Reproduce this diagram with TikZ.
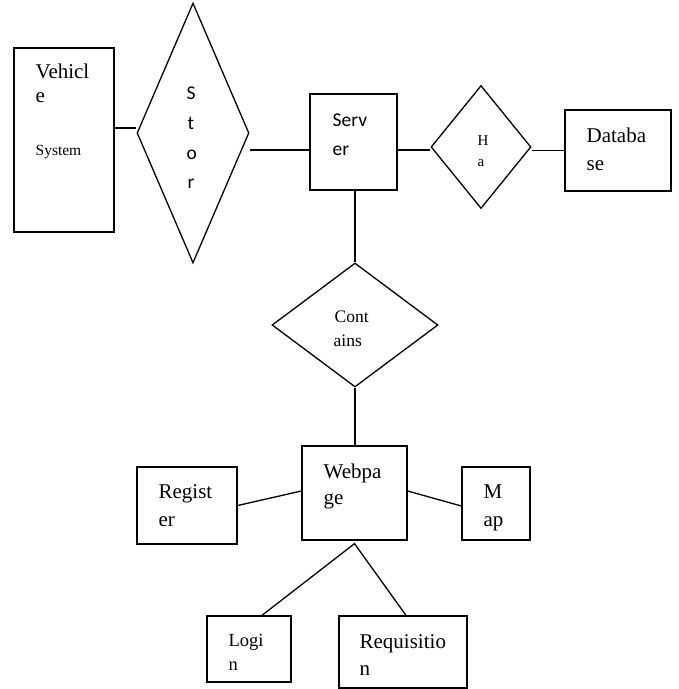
\documentclass[tikz,border=0pt]{standalone}
\usepackage{fontspec}
\setmainfont{Liberation Serif}
\newfontfamily\calfont{Carlito}
\usetikzlibrary{shapes.geometric}
\begin{document}
\begin{tikzpicture}[x=1pt,y=-1pt,line width=1.3pt,
  ent/.style={draw,rectangle,inner sep=0pt},
  rel/.style={draw,diamond,inner sep=0pt},
  lbl/.style={anchor=base west,inner sep=0pt,font=\fontsize{21}{24}\selectfont},
  lblsm/.style={anchor=base west,inner sep=0pt,font=\fontsize{15.5}{18}\selectfont},
  lblmid/.style={anchor=base west,inner sep=0pt,font=\fontsize{17.5}{20}\selectfont},
  lblsans/.style={anchor=base west,inner sep=0pt,font=\calfont\fontsize{19.5}{23}\selectfont}]
\useasboundingbox (0,0) rectangle (679,689);
% entities
\node[ent,minimum width=100pt,minimum height=184pt] (veh) at (64,140) {};
\node[ent,minimum width=87pt,minimum height=96pt] (server) at (353.5,142) {};
\node[ent,minimum width=106pt,minimum height=81pt] (db) at (618,150.5) {};
\node[ent,minimum width=105pt,minimum height=94pt] (web) at (354.5,493) {};
\node[ent,minimum width=100pt,minimum height=77pt] (reg) at (187,505.5) {};
\node[ent,minimum width=68pt,minimum height=73pt] (map) at (496,503.5) {};
\node[ent,minimum width=84pt,minimum height=66pt] (login) at (249,649) {};
\node[ent,minimum width=128pt,minimum height=72pt] (req) at (403,652) {};
% relationships
\node[rel,minimum width=112pt,minimum height=260pt] (stor) at (193,133) {};
\node[rel,minimum width=100pt,minimum height=123pt] (ha) at (481,147) {};
\node[rel,minimum width=166pt,minimum height=124pt] (cont) at (355,325) {};
% connectors
\draw ([yshift=12pt]veh.east) -- ([yshift=12pt]veh.east -| stor.west);
\draw ([yshift=-8pt]server.west) -- ([yshift=-8pt]server.west -| stor.east);
\draw ([yshift=-8pt]server.east) -- ([yshift=-8pt]server.east -| ha.west);
\draw (db.west) -- (db.west -| ha.east);
\draw (cont.north) -- (cont.north |- server.south);
\draw (cont.south) -- (cont.south |- web.north);
\draw (reg.east) -- ([yshift=2pt]web.west);
\draw ([yshift=2pt]web.east) -- ([yshift=-2.5pt]map.west);
\coordinate (apex) at ([yshift=-3pt]web.south);
\draw ([xshift=13pt]login.north) -- (apex) -- ([xshift=3pt]req.north);
% labels
\node[lbl] (t1) at (35,78) {Vehicl};
\node[lbl] (t2) at (35,102) {e};
\node[lblsm] (t3) at (35,155) {System};
\node[lblsans] (s1) at (186,99) {S};
\node[lblsans] (s2) at (187,129) {t};
\node[lblsans] (s3) at (186,159) {o};
\node[lblsans] (s4) at (187,188) {r};
\node[lblsans] (t4) at (332,126) {Serv};
\node[lblsans] (t5) at (332,155) {er};
\node[anchor=base west,inner sep=0pt,font=\fontsize{15}{18}\selectfont] (t6) at (477,145) {H};
\node[anchor=base west,inner sep=0pt,font=\fontsize{15}{18}\selectfont] (t7) at (477,166) {a};
\node[lbl] (t8) at (586,142) {Databa};
\node[lbl] (t9) at (586,170) {se};
\node[lblmid] (t10) at (334,322) {Cont};
\node[lblmid] (t11) at (333,346) {ains};
\node[lbl] (t12) at (323,478) {Webpa};
\node[lbl] (t13) at (323,504) {ge};
\node[lbl] (t14) at (158,498) {Regist};
\node[lbl] (t15) at (158,526) {er};
\node[lbl] (t16) at (483,498) {M};
\node[lbl] (t17) at (483,526) {ap};
\node[anchor=base west,inner sep=0pt,font=\fontsize{18.5}{22}\selectfont] (t18) at (228,646) {Logi};
\node[anchor=base west,inner sep=0pt,font=\fontsize{18.5}{22}\selectfont] (t19) at (228,670) {n};
\node[lbl] (t20) at (359,648) {Requisitio};
\node[lbl] (t21) at (359,675) {n};
\end{tikzpicture}
\end{document}
